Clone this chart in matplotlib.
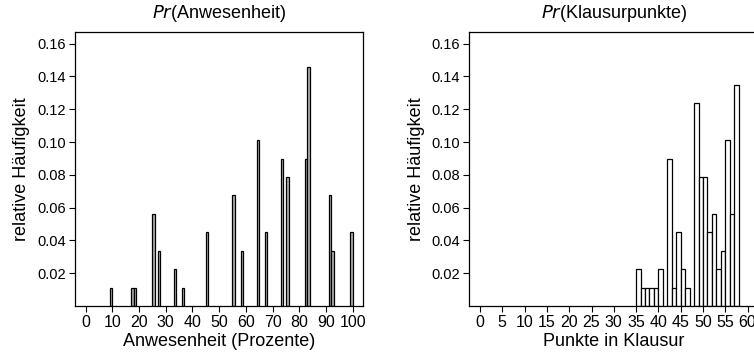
import numpy as np
import matplotlib
matplotlib.use("Agg")
import matplotlib.pyplot as plt

plt.rcParams['font.family'] = ['Liberation Sans', 'DejaVu Sans']

# Attendance histogram: left bin edges (percent) and counts
att_bins = [9, 17, 18, 25, 27, 33, 36, 45, 55, 58, 64, 67, 73, 75, 82, 83, 91, 92, 99]
att_counts = [1, 1, 1, 5, 3, 2, 1, 4, 6, 3, 9, 4, 8, 7, 8, 13, 6, 3, 4]

# Exam points histogram: left bin edges and counts
pts_bins = [35, 36, 37, 38, 39, 40, 42, 43, 44, 45, 46, 48, 49, 50, 51, 52, 53, 54, 55, 56, 57]
pts_counts = [2, 1, 1, 1, 1, 2, 8, 1, 4, 2, 1, 11, 7, 7, 4, 5, 2, 3, 9, 5, 12]

y_ticks = [0.02, 0.04, 0.06, 0.08, 0.10, 0.12, 0.14, 0.16]
att_ticks = list(range(0, 101, 10))
pts_ticks = list(range(0, 61, 5))

W, H = 754, 352
fig = plt.figure(figsize=(W / 100, H / 100), dpi=100)

# axes boxes in pixels (left, top, right, bottom)
ax1 = fig.add_axes([75 / W, (H - 306) / H, 288.3 / W, 274.3 / H])
ax2 = fig.add_axes([469.3 / W, (H - 306) / H, 289 / W, 274.3 / H])


def draw_hist(ax, bins, counts, fill, xlim, xticks, xlabel, title_word):
    counts = np.array(counts, dtype=float)
    rel = counts / counts.sum()
    ax.bar(bins, rel, width=1, align='edge', color=fill,
           edgecolor='black', linewidth=0.9)
    ax.set_xlim(*xlim)
    ax.set_ylim(0, 0.1673)
    ax.set_xticks(xticks)
    ax.set_yticks(y_ticks)
    ax.set_yticklabels([f"{v:.2f}" for v in y_ticks])
    ax.tick_params(direction='out', length=4.5, width=0.8,
                   colors='black', pad=2)
    ax.tick_params(axis='x', labelsize=11.5)
    ax.tick_params(axis='y', labelsize=10.5)
    for s in ax.spines.values():
        s.set_linewidth(0.9)
    ax.set_xlabel(xlabel, fontsize=13, labelpad=2)
    ax.set_ylabel("relative Häufigkeit", fontsize=13, labelpad=5)
    ax.set_title(r"$\it{Pr}$(" + title_word + ")", fontsize=13, pad=10)


draw_hist(ax1, att_bins, att_counts, '#b0b0b0', (-4, 104), att_ticks,
          "Anwesenheit (Prozente)", "Anwesenheit")
draw_hist(ax2, pts_bins, pts_counts, 'white', (-2.4, 62.4), pts_ticks,
          "Punkte in Klausur", "Klausurpunkte")

fig.savefig("out.png", dpi=100)
